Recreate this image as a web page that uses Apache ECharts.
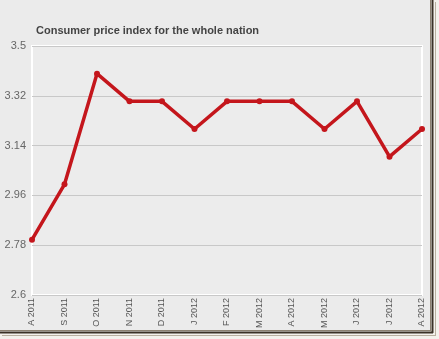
<!DOCTYPE html>
<html><head><meta charset="utf-8">
<script src="https://cdn.jsdelivr.net/npm/echarts@6/dist/echarts.min.js"></script>
<style>html,body{margin:0;padding:0;background:#ebebeb;}#c{width:439px;height:339px;}</style>
</head><body><div id="c"></div>
<script>
const categories = ["A 2011","S 2011","O 2011","N 2011","D 2011","J 2012","F 2012","M 2012","A 2012","M 2012","J 2012","J 2012","A 2012"];
const cpiValues = [2.8, 3.0, 3.4, 3.3, 3.3, 3.2, 3.3, 3.3, 3.3, 3.2, 3.3, 3.1, 3.2];
const yTicks = [2.6, 2.78, 2.96, 3.14, 3.32, 3.5];
const chartTitle = "Consumer price index for the whole nation";

const chart = echarts.init(document.getElementById('c'), null, {renderer:'canvas'});
chart.setOption({
  backgroundColor: '#ebebeb',
  animation: false,
  title: {
    text: chartTitle, left: 31, top: 20,
    textStyle: {fontFamily: 'Arial, Liberation Sans, sans-serif', fontSize: 11, fontWeight: 'bold', color: '#444'}
  },
  graphic: [
    {type:'rect', shape:{x:430, y:0, width:9, height:339}, style:{fill:'#f4f2ec'}, silent:true},
    {type:'rect', shape:{x:0, y:330, width:439, height:9}, style:{fill:'#f4f2ec'}, silent:true},
    {type:'line', shape:{x1:430.5, y1:0, x2:430.5, y2:331}, style:{stroke:'#8a8070', lineWidth:1}},
    {type:'line', shape:{x1:432.5, y1:0, x2:432.5, y2:333}, style:{stroke:'#3a3226', lineWidth:2}},
    {type:'line', shape:{x1:435.5, y1:2, x2:435.5, y2:336}, style:{stroke:'#b8b0a0', lineWidth:1}},
    {type:'line', shape:{x1:0, y1:330.5, x2:431, y2:330.5}, style:{stroke:'#8a8070', lineWidth:1}},
    {type:'line', shape:{x1:0, y1:332.5, x2:433, y2:332.5}, style:{stroke:'#3a3226', lineWidth:2}},
    {type:'line', shape:{x1:2, y1:335.5, x2:436, y2:335.5}, style:{stroke:'#b8b0a0', lineWidth:1}}
  ],
  grid: {left: 32, right: 17, top: 46, bottom: 44, show: true, backgroundColor: '#ececec', borderColor: '#ffffff', borderWidth: 2},
  xAxis: {
    type: 'category', data: categories, boundaryGap: false,
    axisLine: {show: false}, axisTick: {show: false},
    axisLabel: {rotate: 90, interval: 0, fontSize: 9, color: '#555', fontFamily: 'Arial, Liberation Sans, sans-serif', margin: 3}
  },
  yAxis: {
    type: 'value', min: yTicks[0], max: yTicks[yTicks.length-1], interval: 0.18,
    axisLine: {show: false}, axisTick: {show: false},
    splitLine: {lineStyle: {color: '#c8c8c8', width: 1}},
    axisLabel: {fontSize: 11, color: '#666', fontFamily: 'Arial, Liberation Sans, sans-serif', margin: 6,
      formatter: v => { const t = yTicks.find(x => Math.abs(x - v) < 1e-6); return t === undefined ? '' : String(t); }}
  },
  series: [{
    type: 'line', data: cpiValues,
    lineStyle: {color: '#c4161c', width: 3.5},
    itemStyle: {color: '#c4161c'},
    symbol: 'circle', symbolSize: 6, showAllSymbol: true
  }]
});
</script></body></html>
